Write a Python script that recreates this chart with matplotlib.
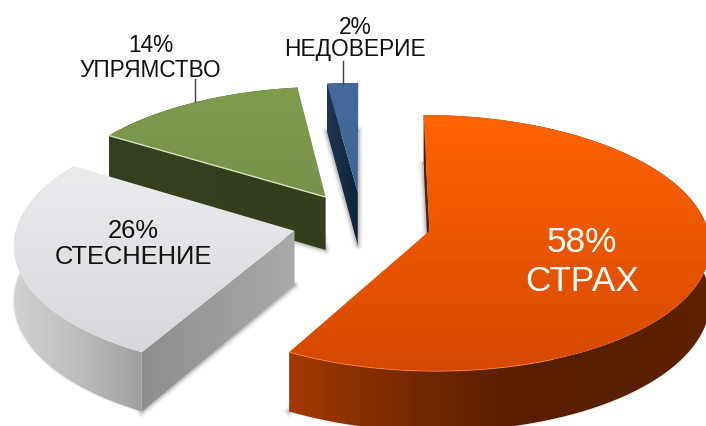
import numpy as np
import matplotlib
matplotlib.use("Agg")
import matplotlib.pyplot as plt
from matplotlib.colors import LinearSegmentedColormap
from matplotlib.patches import Polygon

plt.rcParams['font.family'] = ['Liberation Sans', 'DejaVu Sans']

# Slices, clockwise from twelve o'clock
names = ["СТРАХ", "СТЕСНЕНИЕ", "УПРЯМСТВО", "НЕДОВЕРИЕ"]
values = [58, 26, 14, 2]

# Perspective settings for the tilted disc, in pixels
CENTER_X, CENTER_Y = 362, 224
RADIUS_X, RADIUS_Y = 277, 125.4
PERSPECTIVE = 0.095
THICKNESS = 54
EXPLODE = 0.25

# Colours per slice: top face (back to front), outer wall and cut wall (left to right)
top_colors = [["#ff6400", "#d64800"], ["#e9ebed", "#d6d8db"], ["#7f9b4c", "#76924a"], ["#44699a", "#3f6594"]]
outer_colors = [["#a33a00", "#7c2b00", "#5c2000", "#571e00", "#5e2100"], ["#d2d2d2", "#bdbdbd", "#a0a0a0"],
                ["#36401e", "#36401e"], ["#1b2f4b", "#1b2f4b"]]
cut_colors = [["#4f1c00", "#5f2200"], ["#8e8e8e", "#aaaaaa"], ["#36401e", "#343e1d"], ["#1f3553", "#0f2238"]]


def project(u, v, depth=0.0):
    # Flat disc coordinates to screen pixels, nearer points drawn larger
    u, v = np.asarray(u, float), np.asarray(v, float)
    scale = 1 / (1 + PERSPECTIVE * v)
    x = CENTER_X + u * RADIUS_X * scale
    y = CENTER_Y - v * RADIUS_Y * scale + depth * THICKNESS * scale
    return np.column_stack([x, y])


def gradient_fill(ax, points, colors, vertical=True, zorder=2):
    # Paint a gradient across the bounding box and clip it to the polygon
    cmap = LinearSegmentedColormap.from_list("g", colors)
    ramp = np.linspace(0, 1, 256)
    ramp = ramp.reshape(-1, 1) if vertical else ramp.reshape(1, -1)
    x0, y0 = points.min(axis=0)
    x1, y1 = points.max(axis=0)
    im = ax.imshow(ramp, cmap=cmap, extent=[x0, x1, y1, y0], aspect="auto", zorder=zorder, interpolation="bilinear")
    patch = Polygon(points, closed=True, transform=ax.transData, fc="none", ec="none")
    ax.add_patch(patch)
    im.set_clip_path(patch)


def draw_slice(ax, start, end, index, zorder):
    t = np.radians(np.linspace(start, end, 200))
    mid = np.radians((start + end) / 2)
    ox, oy = EXPLODE * np.sin(mid), EXPLODE * np.cos(mid)
    arc_u, arc_v = ox + np.sin(t), oy + np.cos(t)

    arc_top = project(arc_u, arc_v)
    arc_low = project(arc_u, arc_v, 1)
    apex_top = project([ox], [oy])
    apex_low = project([ox], [oy], 1)
    top_face = np.vstack([apex_top, arc_top])
    low_face = np.vstack([apex_low, arc_low])

    # Soft shadow along the cut edges of the underside, fainter round the rim
    cut_line = np.vstack([arc_low[0], apex_low, arc_low[-1]])
    for lw, alpha in [(7, 0.08), (4.5, 0.13), (2.5, 0.18)]:
        ax.plot(cut_line[:, 0], cut_line[:, 1], color="#6a6a6a", lw=lw, alpha=alpha, zorder=zorder)
    ax.add_patch(Polygon(low_face, closed=True, fc="none", ec="#8a8a8a", lw=2, alpha=0.12, zorder=zorder))

    # Outer wall, then the cut wall that faces the viewer, then the top face over them
    outer = np.vstack([arc_top, arc_low[::-1]])
    gradient_fill(ax, outer, outer_colors[index], vertical=False, zorder=zorder + 0.1)

    first = np.vstack([arc_top[0], apex_top, apex_low, arc_low[0]])
    gradient_fill(ax, first, cut_colors[index], vertical=False, zorder=zorder + 0.2)
    gradient_fill(ax, top_face, top_colors[index], vertical=True, zorder=zorder + 0.3)
    return arc_top, apex_top


def main():
    fig = plt.figure(figsize=(7.06, 4.27), dpi=100, facecolor="white")
    ax = fig.add_axes([0, 0, 1, 1])

    # Far slices first so the nearer ones cover them
    stops = np.concatenate([[0], np.cumsum(values)]) * 3.6
    parts = {}
    for index in [3, 2, 1, 0]:
        parts[index] = draw_slice(ax, stops[index], stops[index + 1], index, 2 + (3 - index))

    # Pale bevel along the front edge of the green slice and the orange rim
    arc, apex = parts[2]
    ax.plot([arc[0, 0], apex[0, 0]], [arc[0, 1], apex[0, 1]], color="#d8e2c4", lw=1.0, zorder=3.5)
    arc, apex = parts[0]
    ax.plot(arc[150:, 0], arc[150:, 1], color="#ff8a40", lw=0.7, alpha=0.7, zorder=6)

    # Leader lines to the two outside labels
    ax.plot([195, 195], [80, 103], color="#404040", lw=1.0, zorder=8)
    ax.plot([343, 343], [62, 85], color="#404040", lw=1.0, zorder=8)

    ax.text(582, 262, f"{values[0]}%\n{names[0]}", color="white", fontsize=25.4, ha="center", va="center",
            linespacing=1.21, zorder=9)
    ax.text(133.5, 244, f"{values[1]}%\n{names[1]}", color="#111111", fontsize=18.4, ha="center", va="center",
            linespacing=1.13, zorder=9)
    ax.text(150.5, 58, f"{values[2]}%\n{names[2]}", color="#111111", fontsize=16.3, ha="center", va="center",
            linespacing=1.09, zorder=9)
    ax.text(355, 38.5, f"{values[3]}%\n{names[3]}", color="#111111", fontsize=16.4, ha="center", va="center",
            linespacing=0.97, zorder=9)

    ax.set_xlim(0, 706)
    ax.set_ylim(427, 0)
    ax.axis("off")
    fig.savefig("out.png", dpi=100, facecolor="white")


main()
